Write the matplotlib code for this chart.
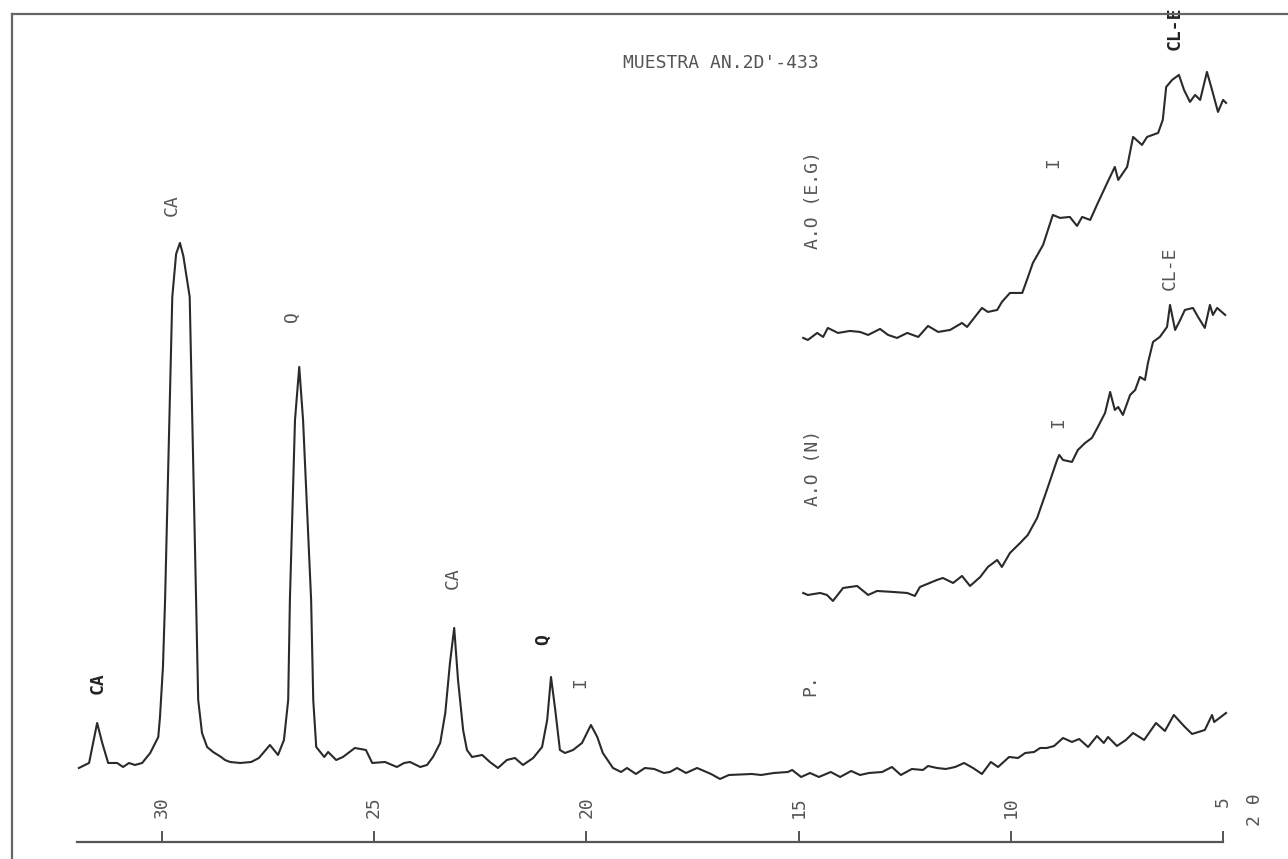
import numpy as np
import matplotlib
matplotlib.use('Agg')
import matplotlib.pyplot as plt
from matplotlib.lines import Line2D

# Difractograma - muestra AN.2D'-433 (2 theta, intensidad relativa)
tt_p = [31.95, 31.71, 31.52, 31.40, 31.26, 31.05, 30.91, 30.77, 30.63, 30.46, 30.27, 30.08,
        30.04, 29.97, 29.92, 29.75, 29.66, 29.57, 29.49, 29.34, 29.19, 29.14, 29.05, 28.93,
        28.79, 28.60, 28.51, 28.39, 28.15, 27.89, 27.71, 27.45, 27.26, 27.12, 27.02, 26.98,
        26.86, 26.76, 26.67, 26.48, 26.43, 26.36, 26.17, 26.08, 25.89, 25.73, 25.45, 25.19,
        25.04, 24.74, 24.46, 24.29, 24.15, 23.91, 23.75, 23.61, 23.44, 23.32, 23.21, 23.11,
        23.02, 22.90, 22.81, 22.69, 22.45, 22.27, 22.08, 21.87, 21.68, 21.49, 21.25, 21.04,
        20.92, 20.83, 20.73, 20.62, 20.50, 20.31, 20.10, 19.89, 19.74, 19.61, 19.37, 19.18,
        19.04, 18.83, 18.62, 18.40, 18.17, 18.03, 17.86, 17.65, 17.39, 17.06, 16.85, 16.64,
        16.10, 15.88, 15.58, 15.25, 15.15, 14.94, 14.73, 14.52, 14.24, 14.02, 13.76, 13.55,
        13.34, 13.03, 12.80, 12.59, 12.33, 12.07, 11.95, 11.74, 11.53, 11.31, 11.10, 10.89,
        10.68, 10.47, 10.30, 10.04, 9.83, 9.66, 9.45, 9.31, 9.15, 8.98, 8.77, 8.56,
        8.39, 8.18, 7.97, 7.81, 7.71, 7.50, 7.29, 7.12, 6.86, 6.58, 6.37, 6.16,
        5.90, 5.73, 5.43, 5.26, 5.21, 4.93]
int_p = [74, 79, 119, 99, 79, 79, 75, 79, 77, 79, 89, 105,
         125, 175, 242, 545, 588, 599, 586, 545, 242, 142, 109, 95,
         90, 85, 82, 80, 79, 80, 84, 97, 87, 102, 142, 242,
         422, 475, 422, 242, 142, 95, 85, 90, 82, 85, 94, 92,
         79, 80, 75, 79, 80, 75, 77, 85, 99, 129, 179, 214,
         162, 112, 92, 85, 87, 80, 74, 82, 84, 77, 84, 95,
         122, 165, 132, 92, 89, 92, 99, 117, 105, 89, 74, 70,
         74, 68, 74, 73, 69, 70, 74, 69, 74, 68, 63, 67,
         68, 67, 69, 70, 72, 65, 69, 65, 70, 65, 71, 67,
         69, 70, 75, 67, 73, 72, 76, 74, 73, 75, 79, 74,
         68, 80, 75, 85, 84, 89, 90, 94, 94, 96, 104, 100,
         103, 95, 106, 99, 105, 96, 102, 109, 102, 119, 111, 127,
         115, 108, 112, 127, 120, 129]

tt_n = [14.89, 14.78, 14.49, 14.33, 14.19, 13.95, 13.62, 13.36, 13.15, 12.77, 12.44, 12.26,
        12.14, 11.74, 11.60, 11.36, 11.15, 10.96, 10.72, 10.54, 10.32, 10.21, 10.02, 9.78,
        9.60, 9.38, 9.15, 8.91, 8.86, 8.77, 8.56, 8.42, 8.25, 8.09, 7.95, 7.78,
        7.66, 7.55, 7.47, 7.36, 7.19, 7.07, 6.96, 6.84, 6.77, 6.65, 6.49, 6.32,
        6.25, 6.13, 6.01, 5.90, 5.71, 5.59, 5.43, 5.31, 5.24, 5.14, 4.95]
int_n = [249, 247, 249, 247, 241, 254, 256, 247, 251, 250, 249, 246,
         255, 262, 264, 259, 266, 256, 265, 275, 282, 275, 289, 299,
         307, 324, 352, 382, 387, 382, 380, 392, 399, 404, 415, 429,
         450, 432, 435, 427, 447, 452, 465, 462, 479, 500, 505, 515,
         537, 512, 522, 532, 534, 525, 514, 537, 527, 534, 527]

tt_eg = [14.89, 14.78, 14.56, 14.42, 14.31, 14.07, 13.79, 13.55, 13.36, 13.08, 12.89, 12.68,
         12.44, 12.18, 11.95, 11.71, 11.43, 11.15, 11.03, 10.68, 10.54, 10.32, 10.21, 10.02,
         9.73, 9.62, 9.48, 9.24, 9.01, 8.84, 8.61, 8.44, 8.32, 8.13, 7.95, 7.73,
         7.55, 7.47, 7.26, 7.12, 6.91, 6.79, 6.53, 6.42, 6.34, 6.20, 6.04, 5.92,
         5.78, 5.66, 5.54, 5.38, 5.26, 5.12, 5.00, 4.93]
int_eg = [504, 502, 509, 505, 514, 509, 511, 510, 507, 513, 507, 504,
          509, 505, 516, 510, 512, 519, 515, 534, 530, 532, 540, 549,
          549, 562, 579, 597, 627, 624, 625, 616, 625, 622, 639, 659,
          675, 662, 675, 705, 697, 705, 709, 722, 755, 762, 767, 752,
          740, 747, 742, 770, 752, 730, 742, 739]

ticks = [30, 25, 20, 15, 10, 5]

# etiquetas de picos: (texto, 2theta, intensidad, negrita)
etiquetas = [("CA", 31.52, 159, True), ("CA", 29.76, 637, False), ("Q", 26.93, 525, False),
             ("CA", 23.14, 264, False), ("Q", 21.02, 202, True), ("I", 20.15, 159, False),
             ("P.", 14.73, 157, False), ("A.O (N)", 14.66, 374, False),
             ("A.O (E.G)", 14.66, 642, False), ("I", 8.89, 419, False), ("I", 9.01, 679, False),
             ("CL-E", 6.25, 574, False), ("CL-E", 6.13, 814, True)]

fuente = 'DejaVu Sans Mono'
gris = '#555555'
trazo = '#2a2a2a'

fig = plt.figure(figsize=(12.88, 8.59), dpi=100)
ax = fig.add_axes([0.0596, 0.0198, 0.890, 0.964])

for x, y in [(tt_p, int_p), (tt_n, int_n), (tt_eg, int_eg)]:
    ax.plot(x, y, color=trazo, lw=1.5, clip_on=False, solid_joinstyle='round')

ax.set_xlim(32, 5)
ax.set_ylim(0, 828)

for s in ['left', 'right', 'top']:
    ax.spines[s].set_visible(False)
ax.spines['bottom'].set_color(gris)
ax.spines['bottom'].set_linewidth(1.6)
ax.set_yticks([])
ax.set_xticks(ticks)
ax.set_xticklabels([str(t) for t in ticks], fontfamily=fuente, fontsize=13, color=gris)
ax.tick_params(axis='x', direction='in', length=8, width=1.4, color=gris,
               labelrotation=90, pad=-33)

for texto, x, y, negrita in etiquetas:
    ax.text(x, y, texto, rotation=90, ha='center', va='center', fontfamily=fuente,
            fontsize=13, color='#222222' if negrita else gris,
            fontweight='bold' if negrita else 'normal', clip_on=False)

ax.text(4.25, 32, "2 θ", rotation=90, ha='center', va='center', fontfamily=fuente,
        fontsize=13, color=gris, clip_on=False)

fig.text(623 / 1288, 1 - 63 / 859, "MUESTRA AN.2D'-433", ha='left', va='center',
         fontfamily=fuente, fontsize=13, color=gris)

# marco de la hoja (borde izquierdo y superior)
fig.add_artist(Line2D([12 / 1288, 12 / 1288], [0, 1 - 14 / 859], color='#666666', lw=1.6))
fig.add_artist(Line2D([12 / 1288, 1], [1 - 14 / 859, 1 - 14 / 859], color='#666666', lw=1.6))

fig.savefig('out.png', dpi=100)
